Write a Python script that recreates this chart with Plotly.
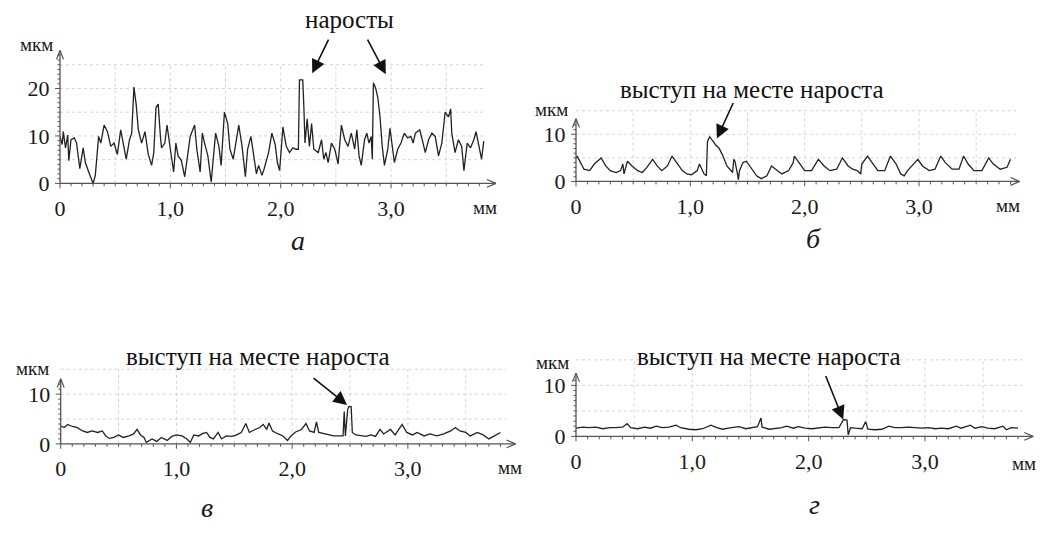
import plotly.graph_objects as go

W, H = 1040, 533

# ---------------- data ----------------
# panel а
xa = [0.00, 0.02, 0.03, 0.05, 0.07, 0.08, 0.10, 0.13, 0.15, 0.18, 0.21, 0.23, 0.26, 0.30, 0.32, 0.35, 0.37,
      0.40, 0.43, 0.46, 0.49, 0.52, 0.55, 0.58, 0.60, 0.63, 0.65, 0.67, 0.69, 0.71, 0.74, 0.77, 0.80, 0.83,
      0.85, 0.87, 0.89, 0.91, 0.92, 0.95, 0.97, 1.00, 1.03, 1.05, 1.07, 1.10, 1.13, 1.16, 1.18, 1.22, 1.24,
      1.27, 1.29, 1.31, 1.34, 1.37, 1.39, 1.41, 1.44, 1.46, 1.49, 1.52, 1.54, 1.57, 1.62, 1.65, 1.68, 1.70,
      1.73, 1.75, 1.78, 1.80, 1.83, 1.85, 1.89, 1.92, 1.95, 1.97, 1.99, 2.02, 2.05, 2.08, 2.11, 2.14, 2.16,
      2.17, 2.20, 2.21, 2.22, 2.24, 2.26, 2.28, 2.30, 2.34, 2.37, 2.39, 2.41, 2.43, 2.46, 2.49, 2.52, 2.55,
      2.58, 2.61, 2.64, 2.67, 2.69, 2.71, 2.73, 2.76, 2.78, 2.80, 2.82, 2.83, 2.84, 2.86, 2.88, 2.90, 2.92,
      2.94, 2.97, 2.99, 3.01, 3.03, 3.06, 3.09, 3.12, 3.15, 3.18, 3.20, 3.22, 3.26, 3.29, 3.31, 3.34, 3.37,
      3.40, 3.43, 3.46, 3.48, 3.49, 3.52, 3.54, 3.55, 3.58, 3.61, 3.64, 3.66, 3.69, 3.72, 3.75, 3.77, 3.80,
      3.82, 3.84]
ya = [9.9, 8.2, 10.9, 7.5, 10.2, 4.8, 9.2, 9.6, 8.5, 3.1, 7.5, 4.4, 2.4, 0.0, 1.7, 9.9, 8.5,
      12.3, 10.9, 7.8, 8.5, 6.1, 11.3, 7.2, 5.1, 9.2, 10.6, 20.3, 16.7, 11.3, 8.5, 10.9, 6.1, 3.8,
      6.5, 16.0, 16.7, 9.9, 7.5, 8.5, 12.3, 7.2, 2.4, 8.5, 5.8, 4.8, 1.4, 6.5, 9.9, 12.3, 7.2,
      2.4, 10.6, 8.5, 5.8, 0.3, 5.8, 10.6, 7.8, 3.8, 15.0, 12.6, 7.2, 5.1, 12.3, 7.8, 1.4, 7.2,
      9.9, 6.5, 2.0, 3.8, 1.7, 3.1, 6.5, 10.6, 8.2, 4.4, 2.7, 11.9, 7.8, 6.5, 7.5, 7.2, 7.2,
      21.8, 21.8, 16.0, 8.5, 13.6, 7.8, 12.6, 7.2, 6.5, 9.2, 5.1, 6.5, 4.4, 8.5, 7.2, 4.1, 12.3,
      9.2, 7.8, 10.6, 7.2, 11.3, 5.8, 3.8, 9.2, 10.6, 8.5, 9.9, 5.1, 21.2, 20.1, 18.1, 14.0, 7.8,
      3.8, 7.2, 11.6, 8.5, 4.4, 7.2, 8.5, 10.6, 9.6, 9.9, 8.5, 10.6, 11.3, 8.5, 6.5, 9.2, 10.6,
      9.9, 5.8, 8.5, 12.6, 15.0, 14.0, 15.7, 10.6, 6.5, 9.2, 7.8, 2.7, 8.5, 7.5, 9.2, 10.9, 7.2,
      5.1, 8.9]

# panel б
xb = [0.00, 0.01, 0.04, 0.07, 0.12, 0.16, 0.22, 0.26, 0.30, 0.35, 0.39, 0.41, 0.42, 0.45, 0.49, 0.54,
      0.58, 0.62, 0.67, 0.71, 0.75, 0.80, 0.84, 0.88, 0.93, 0.97, 1.01, 1.06, 1.08, 1.12, 1.14, 1.15,
      1.17, 1.19, 1.22, 1.25, 1.28, 1.32, 1.35, 1.37, 1.38, 1.39, 1.41, 1.42, 1.43, 1.46, 1.49, 1.54,
      1.58, 1.62, 1.67, 1.71, 1.75, 1.80, 1.86, 1.90, 1.91, 1.96, 2.00, 2.06, 2.12, 2.17, 2.22, 2.28,
      2.33, 2.38, 2.42, 2.46, 2.49, 2.50, 2.55, 2.59, 2.64, 2.70, 2.75, 2.80, 2.84, 2.87, 2.90, 2.99,
      3.03, 3.09, 3.14, 3.19, 3.23, 3.29, 3.35, 3.39, 3.43, 3.48, 3.55, 3.61, 3.65, 3.71, 3.77, 3.80]
yb = [5.0, 5.4, 4.0, 2.6, 2.3, 3.7, 5.0, 3.3, 2.3, 1.9, 2.3, 3.7, 1.6, 4.3, 3.3, 2.3,
      1.9, 3.0, 4.7, 3.3, 2.3, 3.3, 5.4, 4.0, 2.3, 1.6, 1.4, 2.3, 3.7, 1.6, 1.2, 8.5,
      9.5, 8.8, 7.8, 7.1, 5.7, 3.3, 2.3, 1.9, 4.7, 4.3, 1.9, 0.4, 2.3, 4.0, 4.3, 2.6,
      1.2, 0.6, 1.2, 3.3, 2.6, 1.6, 2.3, 4.0, 5.4, 3.7, 2.3, 2.3, 4.7, 3.3, 2.3, 2.6,
      5.0, 3.3, 2.6, 2.3, 1.6, 3.7, 5.4, 4.0, 2.3, 2.3, 5.4, 3.7, 1.6, 1.2, 2.3, 4.7,
      3.3, 2.3, 2.6, 5.4, 4.0, 2.6, 2.6, 5.4, 3.7, 2.3, 2.3, 5.0, 3.7, 2.6, 3.0, 4.7]

# panel в
xv = [0.00, 0.03, 0.06, 0.10, 0.14, 0.19, 0.23, 0.27, 0.32, 0.36, 0.39, 0.42, 0.46, 0.50, 0.54, 0.59,
      0.63, 0.66, 0.69, 0.72, 0.74, 0.79, 0.83, 0.87, 0.92, 0.96, 1.00, 1.05, 1.09, 1.12, 1.15, 1.19,
      1.23, 1.26, 1.29, 1.32, 1.36, 1.39, 1.43, 1.48, 1.52, 1.56, 1.60, 1.63, 1.68, 1.72, 1.75, 1.78,
      1.80, 1.83, 1.88, 1.92, 1.96, 1.99, 2.03, 2.08, 2.12, 2.15, 2.19, 2.21, 2.23, 2.28, 2.32, 2.36,
      2.41, 2.44, 2.45, 2.46, 2.48, 2.49, 2.51, 2.52, 2.55, 2.59, 2.64, 2.68, 2.72, 2.76, 2.79, 2.85,
      2.89, 2.95, 2.99, 3.04, 3.08, 3.14, 3.19, 3.25, 3.31, 3.37, 3.41, 3.45, 3.50, 3.54, 3.60, 3.65,
      3.70, 3.74, 3.80]
yv = [3.6, 3.3, 3.9, 3.5, 3.3, 2.6, 2.3, 2.6, 2.3, 2.6, 1.6, 1.1, 1.3, 1.8, 1.3, 1.6,
      2.0, 2.9, 1.8, 1.3, 0.3, 1.0, 0.5, 1.3, 0.7, 1.5, 1.8, 1.6, 1.0, 0.3, 1.8, 1.6,
      2.1, 2.3, 1.3, 1.0, 2.3, 1.0, 1.6, 1.5, 1.8, 2.3, 4.1, 2.3, 2.9, 3.3, 3.9, 2.9,
      4.2, 2.6, 2.0, 1.6, 0.7, 1.6, 2.4, 2.9, 4.1, 2.6, 2.3, 4.4, 2.3, 2.0, 1.8, 1.6,
      1.6, 1.6, 6.5, 1.6, 6.9, 7.5, 7.5, 2.3, 1.8, 1.6, 1.5, 1.8, 1.5, 2.9, 2.0, 2.9,
      1.8, 3.9, 2.3, 1.8, 2.3, 1.6, 2.0, 1.6, 2.0, 2.6, 3.3, 2.6, 2.3, 1.6, 2.3, 1.8,
      1.0, 1.5, 2.3]

# panel г
xg = [0.00, 0.06, 0.11, 0.17, 0.23, 0.29, 0.34, 0.40, 0.44, 0.47, 0.53, 0.59, 0.64, 0.69, 0.74, 0.80,
      0.86, 0.90, 0.97, 1.03, 1.09, 1.16, 1.21, 1.26, 1.31, 1.40, 1.46, 1.51, 1.56, 1.59, 1.60, 1.66,
      1.71, 1.77, 1.81, 1.87, 1.91, 1.97, 2.03, 2.09, 2.14, 2.20, 2.26, 2.30, 2.33, 2.34, 2.36, 2.40,
      2.46, 2.49, 2.51, 2.57, 2.63, 2.69, 2.74, 2.80, 2.86, 2.91, 2.97, 3.03, 3.09, 3.14, 3.20, 3.27,
      3.31, 3.39, 3.43, 3.49, 3.54, 3.60, 3.67, 3.70, 3.74, 3.80]
yg = [1.6, 1.8, 1.7, 1.8, 1.5, 1.7, 1.7, 1.8, 2.5, 1.7, 1.5, 1.8, 1.6, 2.0, 1.7, 1.8,
      2.2, 1.7, 1.4, 1.3, 1.5, 2.2, 1.7, 1.4, 1.6, 1.9, 1.5, 1.7, 1.9, 3.6, 1.8, 1.4,
      1.5, 1.7, 2.0, 1.6, 1.9, 1.6, 1.5, 1.7, 1.8, 1.7, 1.7, 3.3, 3.2, 0.3, 1.7, 1.6,
      1.5, 2.9, 1.4, 1.3, 1.4, 2.0, 1.7, 1.7, 1.8, 1.7, 1.6, 1.7, 1.5, 1.6, 1.5, 2.0,
      1.6, 2.2, 1.6, 1.9, 1.6, 1.5, 2.0, 1.3, 1.7, 1.6]

x_label_alias = {"1": "1,0", "2": "2,0", "3": "3,0"}
captions = ["а", "б", "в", "г"]

# ---------------- layout geometry ----------------
panels = [
    dict(x=xa, y=ya, ox=54.3, oy=188.0, sx=111.0, sy=4.865, xend=3.95, ytop=28.0, ytip=28.0,
         gtop=25, cap=(294, 247), unit_y=(31, 46), unit_x=(482, 213)),
    dict(x=xb, y=yb, ox=573.3, oy=186.0, sx=115.0, sy=4.83, xend=3.88, ytop=15.3, ytip=13.3,
         gtop=15, cap=(812, 244), unit_y=(549, 112), unit_x=(1008, 211)),
    dict(x=xv, y=yv, ox=55.0, oy=455.0, sx=116.4, sy=5.1, xend=3.93, ytop=15.3, ytip=13.1,
         gtop=15, cap=(202, 520), unit_y=(27, 378), unit_x=(507, 479)),
    dict(x=xg, y=yg, ox=573.3, oy=447.3, sx=117.0, sy=5.23, xend=3.93, ytop=15.3, ytip=12.4,
         gtop=15, cap=(813, 517), unit_y=(550, 372), unit_x=(1024, 475)),
]

FONT = "Liberation Serif, DejaVu Serif, Times New Roman, serif"
AXC = "#555555"
GRIDC = "#d4d4d4"


def px2paper(px, py):
    return px / W, 1 - py / H


def seg(p0, p1, color=AXC, width=1.0):
    a = px2paper(*p0)
    b = px2paper(*p1)
    return dict(type="line", xref="paper", yref="paper", x0=a[0], y0=a[1], x1=b[0], y1=b[1],
                line=dict(color=color, width=width))


fig = go.Figure()
shapes = []
annotations = []

for i, p in enumerate(panels):
    n = "" if i == 0 else str(i + 1)
    xname, yname = "x" + n, "y" + n
    ox, oy, sx, sy = p["ox"], p["oy"], p["sx"], p["sy"]
    x0p = ox / W
    x1p = (ox + p["xend"] * sx) / W
    y0p = 1 - oy / H
    y1p = 1 - (oy - p["ytop"] * sy) / H

    fig.add_trace(go.Scatter(x=p["x"], y=p["y"], mode="lines", xaxis=xname, yaxis=yname,
                             line=dict(color="#222222", width=1.3), showlegend=False,
                             hoverinfo="skip"))

    fig.layout["xaxis" + n] = dict(
        domain=[x0p, x1p], range=[0, p["xend"]], anchor=yname,
        showgrid=False, zeroline=False, showline=False,
        tickmode="linear", tick0=0, dtick=1, labelalias=x_label_alias,
        ticks="outside", ticklen=5, tickwidth=1, tickcolor="rgba(0,0,0,0)",
        tickfont=dict(family=FONT, size=22, color="#1a1a1a"),
        fixedrange=True)
    fig.layout["yaxis" + n] = dict(
        domain=[y0p, y1p], range=[0, p["ytop"]], anchor=xname,
        showgrid=False, zeroline=False, showline=False,
        tickmode="linear", tick0=0, dtick=10,
        ticks="outside", ticklen=5, tickwidth=1, tickcolor="rgba(0,0,0,0)",
        tickfont=dict(family=FONT, size=22, color="#1a1a1a"),
        fixedrange=True)

    # dotted grid (limited extent)
    xgrid_end = 3.85
    for gy in range(5, p["gtop"] + 1, 5):
        shapes.append(dict(type="line", xref=xname, yref=yname, x0=0, x1=xgrid_end, y0=gy, y1=gy,
                           line=dict(color=GRIDC, width=1, dash="dot"), layer="below"))
    for k in range(1, 8):
        gx = 0.5 * k
        shapes.append(dict(type="line", xref=xname, yref=yname, x0=gx, x1=gx, y0=0, y1=p["gtop"],
                           line=dict(color=GRIDC, width=1, dash="dot"), layer="below"))

    # axes with open arrowheads
    xe = ox + p["xend"] * sx
    yt = oy - p["ytip"] * sy
    shapes.append(seg((ox, oy), (xe, oy), width=1.3))
    shapes.append(seg((ox, oy), (ox, yt), width=1.3))
    shapes.append(seg((xe - 9, oy - 4), (xe, oy), width=1.2))
    shapes.append(seg((xe - 9, oy + 4), (xe, oy), width=1.2))
    shapes.append(seg((ox - 3.5, yt + 9), (ox, yt), width=1.2))
    shapes.append(seg((ox + 3.5, yt + 9), (ox, yt), width=1.2))

    # tick marks: x every 0.1 mm, y every 1 µm
    for k in range(0, 39):
        tx = ox + k * 0.1 * sx
        ln = 5 if k % 10 == 0 else 3
        shapes.append(seg((tx, oy), (tx, oy + ln), width=1))
    for k in range(0, int(p["ytip"])):
        ty = oy - k * sy
        ln = 5 if k % 10 == 0 else 2.5
        shapes.append(seg((ox - ln, ty), (ox, ty), width=1))

    ux, uy = px2paper(*p["unit_y"])
    annotations.append(dict(x=ux, y=uy, xref="paper", yref="paper", text="мкм", showarrow=False,
                            font=dict(family=FONT, size=19, color="#1a1a1a"),
                            xanchor="center", yanchor="middle"))
    ux, uy = px2paper(*p["unit_x"])
    annotations.append(dict(x=ux, y=uy, xref="paper", yref="paper", text="мм", showarrow=False,
                            font=dict(family=FONT, size=19, color="#1a1a1a"),
                            xanchor="center", yanchor="middle"))
    cx, cy = px2paper(*p["cap"])
    annotations.append(dict(x=cx, y=cy, xref="paper", yref="paper", text="<i>" + captions[i] + "</i>",
                            showarrow=False, font=dict(family=FONT, size=28, color="#1a1a1a"),
                            xanchor="center", yanchor="middle"))

texts = [("наросты", (345, 20)),
         ("выступ на месте нароста", (750, 92)),
         ("выступ на месте нароста", (253, 365)),
         ("выступ на месте нароста", (767, 365))]
for t, (px, py) in texts:
    x, y = px2paper(px, py)
    annotations.append(dict(x=x, y=y, xref="paper", yref="paper", text=t, showarrow=False,
                            font=dict(family=FONT, size=25, color="#111"),
                            xanchor="center", yanchor="middle"))

arrows = [((308, 75), (17, -35)), ((382, 76), (-19, -36)), ((715, 142), (17, -37)),
          ((343, 415), (-35, -28)), ((842, 430), (-18, -45))]
for (px, py), (dx, dy) in arrows:
    x, y = px2paper(px, py)
    annotations.append(dict(x=x, y=y, xref="paper", yref="paper", text="", showarrow=True,
                            ax=dx, ay=dy, arrowhead=2, arrowsize=1.7, arrowwidth=1.6,
                            arrowcolor="#111", standoff=0))

fig.update_layout(width=W, height=H, margin=dict(l=0, r=0, t=0, b=0),
                  paper_bgcolor="white", plot_bgcolor="white",
                  shapes=shapes, annotations=annotations, showlegend=False)

fig.write_html("out.html", config={"displayModeBar": False})
